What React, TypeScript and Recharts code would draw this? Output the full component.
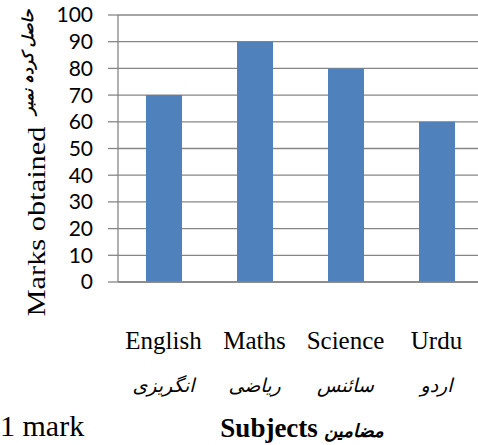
import React from 'react';
import { BarChart, Bar, XAxis, YAxis, CartesianGrid, Label } from 'recharts';

const subjects = ['English', 'Maths', 'Science', 'Urdu'];
const subjectsUrdu = ['انگریزی', 'ریاضی', 'سائنس', 'اردو'];
const marks = [70, 90, 80, 60];
const yTicks = [0, 10, 20, 30, 40, 50, 60, 70, 80, 90, 100];
const yTitle = 'Marks obtained';
const yTitleUrdu = 'حاصل کردہ نمبر';
const xTitle = 'Subjects';
const xTitleUrdu = 'مضامین';
const scaleNote = '1 mark';

const data = subjects.map((s, i) => ({ subject: s, urdu: subjectsUrdu[i], marks: marks[i] }));

const GRAY = '#868686';
const SERIF = '"Liberation Serif", "Times New Roman", serif';
const ARABIC = '"DejaVu Sans", sans-serif';

const XTick = (props: any) => {
  const { x, y, index } = props;
  return (
    <g>
      <text x={x} y={y + 67} textAnchor="middle" fontFamily={SERIF} fontSize={25} fill="#000">
        {subjects[index]}
      </text>
      <text x={x} y={y + 110} textAnchor="middle" fontFamily={ARABIC} fontSize={19} fontStyle="italic" fill="#000">
        {subjectsUrdu[index]}
      </text>
    </g>
  );
};

const YTitle = (props: any) => {
  const vb = props.viewBox || { x: 0, y: 15, width: 118, height: 267 };
  const cy = vb.y + vb.height / 2 + 73;
  const cx = vb.x + 45;
  const ucy = vb.y + 47;
  const ucx = vb.x + 33;
  return (
    <g>
      <text
        x={cx}
        y={cy}
        transform={`rotate(-90 ${cx} ${cy})`}
        textAnchor="middle"
        fontFamily={SERIF}
        fontSize={26}
        textLength={190}
        lengthAdjust="spacingAndGlyphs"
        fill="#000"
      >
        {yTitle}
      </text>
      <text
        x={ucx}
        y={ucy}
        transform={`rotate(-90 ${ucx} ${ucy})`}
        textAnchor="middle"
        fontFamily={ARABIC}
        fontSize={15}
        fontStyle="italic"
        fontWeight="bold"
        fill="#000"
      >
        {yTitleUrdu}
      </text>
    </g>
  );
};

const XTitle = (props: any) => {
  const vb = props.viewBox || { x: 118, y: 282, width: 364, height: 163 };
  const cx = vb.x + vb.width / 2 + 2;
  const by = vb.y + 155;
  return (
    <g>
      <text x={cx} y={by} textAnchor="middle" fill="#000">
        <tspan fontFamily={SERIF} fontWeight="bold" fontSize={27}>{xTitle}</tspan>
        <tspan fontFamily={ARABIC} fontWeight="bold" fontStyle="italic" fontSize={18}>{' ' + xTitleUrdu}</tspan>
      </text>
      <text x={0} y={by - 1} textAnchor="start" fontFamily={SERIF} fontSize={30} fill="#000">
        {scaleNote}
      </text>
    </g>
  );
};

export default function App() {
  return (
    <div style={{ position: 'absolute', left: 0, top: 0, width: 478, height: 445, overflow: 'hidden', background: '#fff' }}>
      <BarChart width={482} height={445} data={data} margin={{ top: 15, right: 0, bottom: 0, left: 0 }} barSize={36}>
        <CartesianGrid vertical={false} stroke={GRAY} strokeWidth={1.3} />
        <XAxis
          dataKey="subject"
          axisLine={{ stroke: GRAY, strokeWidth: 1.3 }}
          tickLine={false}
          tickSize={0}
          tickMargin={0}
          interval={0}
          height={163}
          tick={<XTick />}
        >
          <Label content={<XTitle />} />
        </XAxis>
        <YAxis
          domain={[0, 100]}
          ticks={yTicks}
          interval={0}
          width={118}
          axisLine={{ stroke: GRAY, strokeWidth: 1.3 }}
          tickLine={{ stroke: GRAY, strokeWidth: 1.3 }}
          tickSize={10}
          tickMargin={15}
          tick={{ fill: '#000', fontFamily: 'Lato, "Open Sans", sans-serif', fontSize: 21 }}
        >
          <Label content={<YTitle />} />
        </YAxis>
        <Bar dataKey="marks" fill="#4F81BD" isAnimationActive={false} />
      </BarChart>
    </div>
  );
}
